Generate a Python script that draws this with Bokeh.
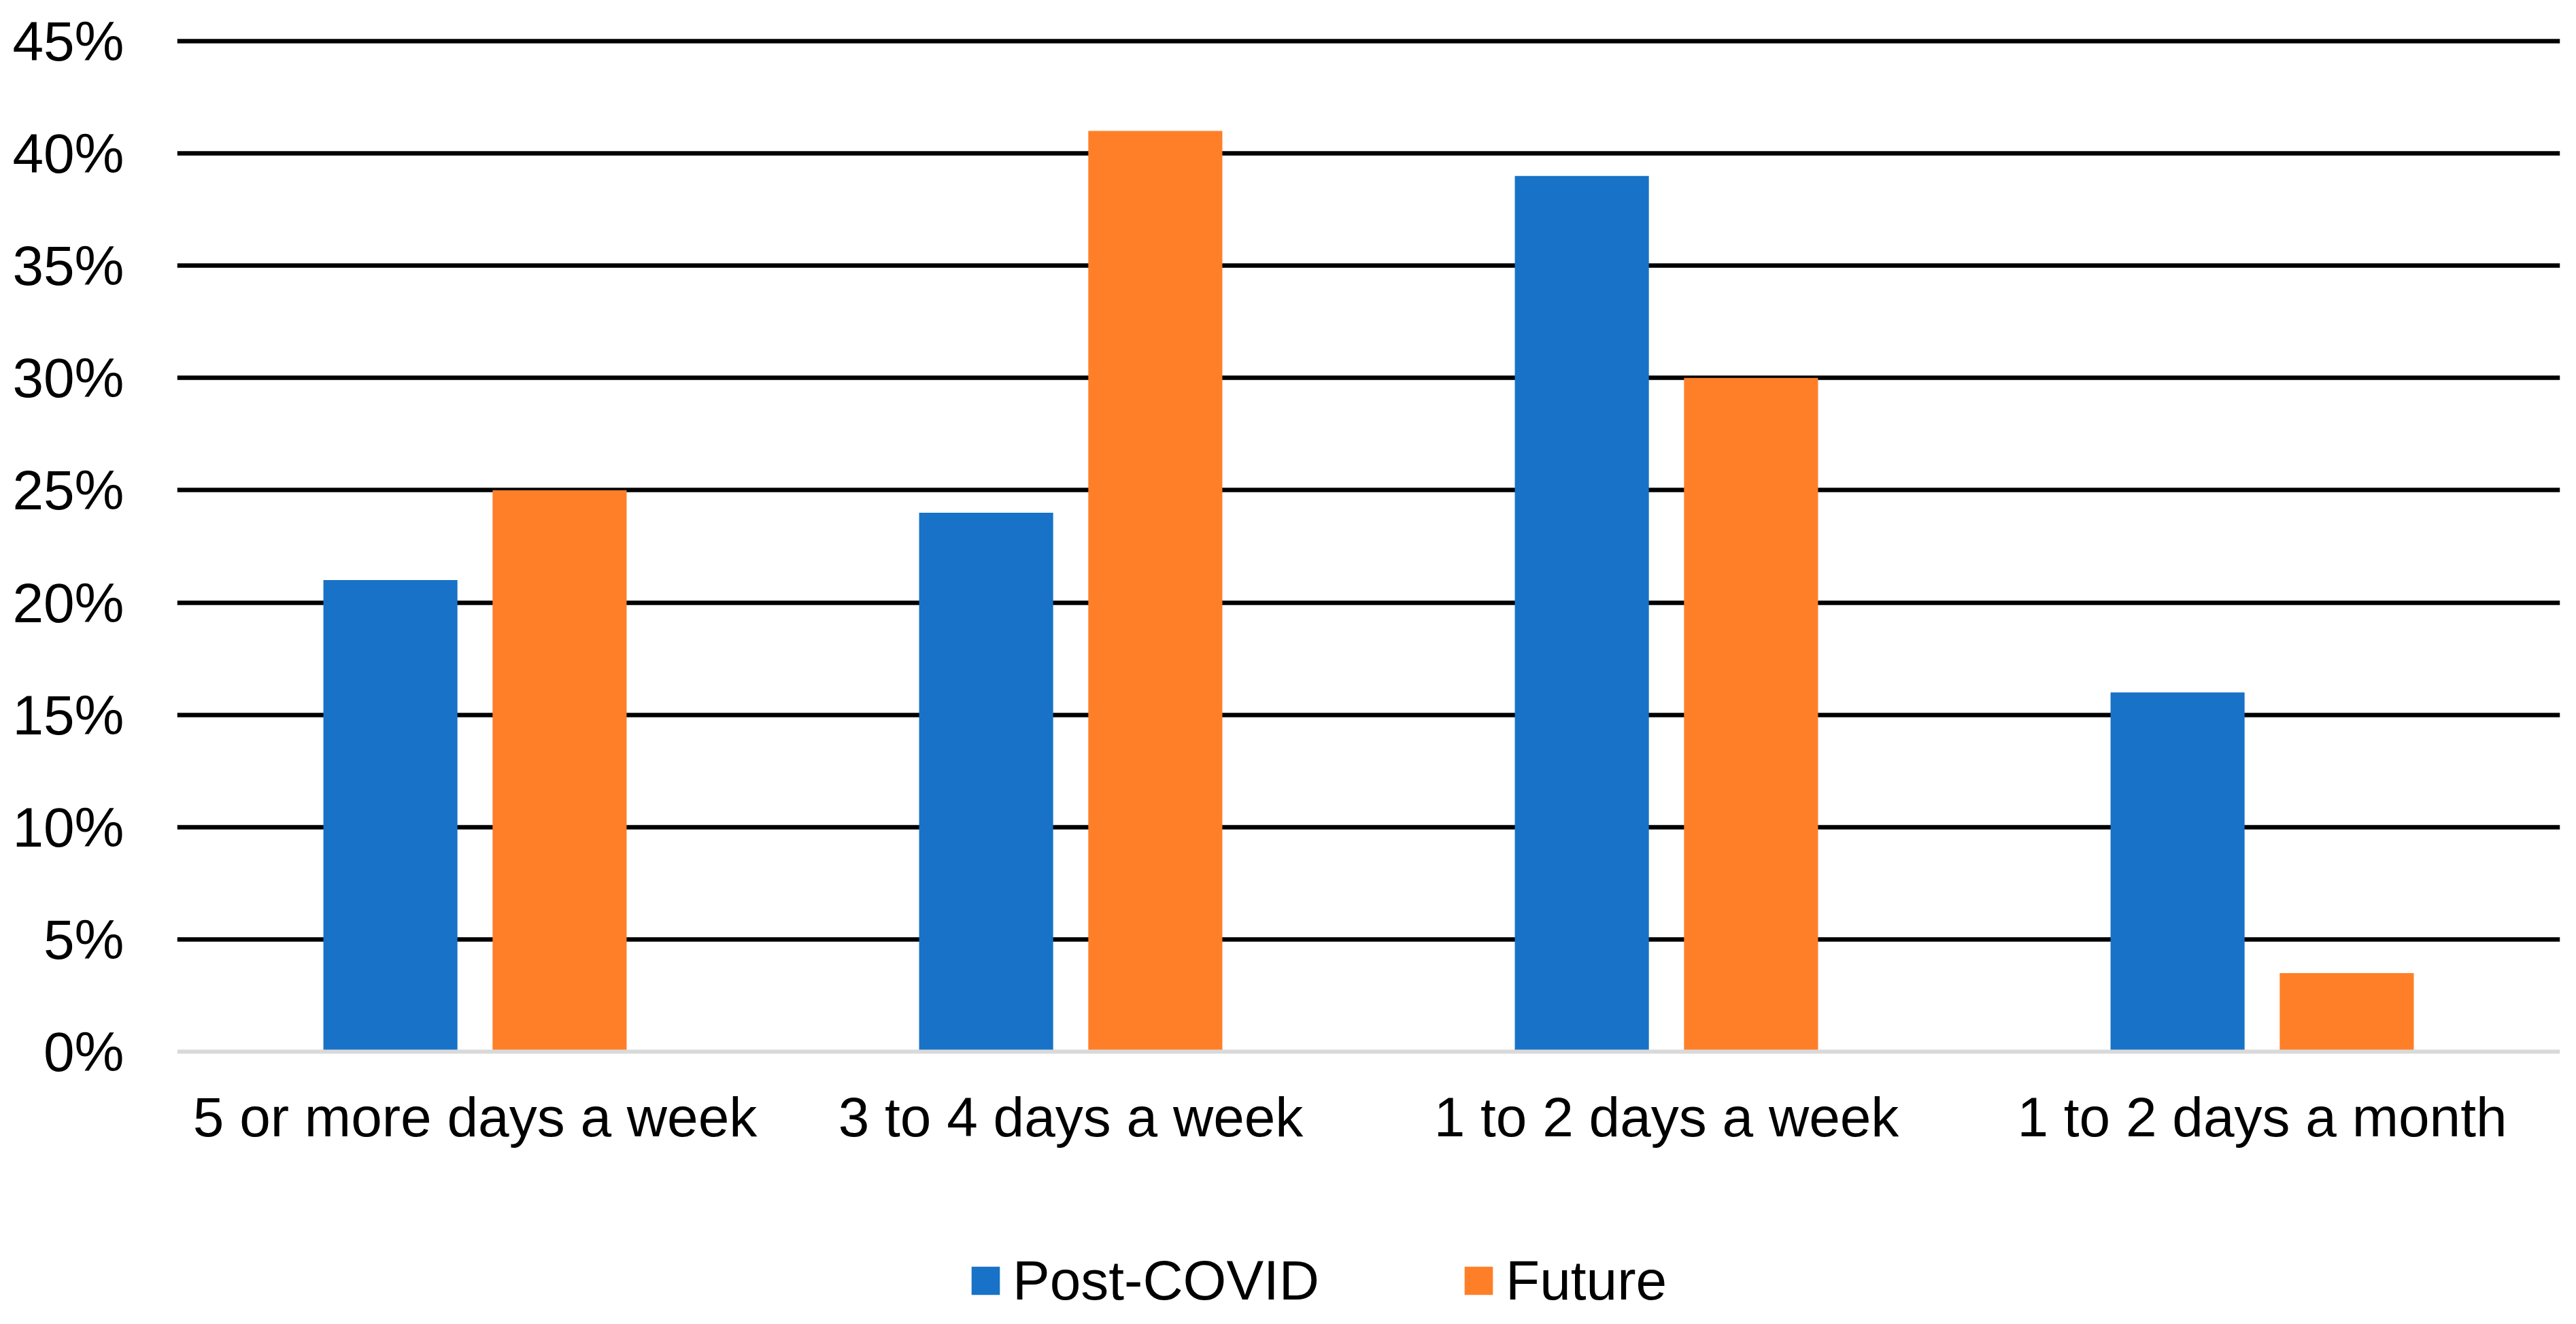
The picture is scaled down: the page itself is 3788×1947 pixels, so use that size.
from bokeh.plotting import figure
from bokeh.models import FactorRange, Range1d, FixedTicker, Legend, LegendItem, ColumnDataSource
from bokeh.transform import dodge
from bokeh.embed import file_html
from bokeh.resources import INLINE

# ---- data ----
categories = ["5 or more days a week", "3 to 4 days a week", "1 to 2 days a week", "1 to 2 days a month"]
post_covid = [21, 24, 39, 16]
future = [25, 41, 30, 3.5]
series_names = ["Post-COVID", "Future"]
y_ticks = [0, 5, 10, 15, 20, 25, 30, 35, 40, 45]
y_tick_labels = ["0%", "5%", "10%", "15%", "20%", "25%", "30%", "35%", "40%", "45%"]

# ---- styles ----
BLUE = "#1872C7"
ORANGE = "#FF7F28"
FONT = "Liberation Sans"
FS = "82px"

W, H = 3772, 1931
left_b, right_b, top_b, bottom_b = 260, 8, 50, 0
# pixel geometry of the value axis (figure coords): 45% at y=60, 0% at y=1546
y_top_px, y_zero_px = 60, 1546
px_per_unit = (y_zero_px - y_top_px) / y_ticks[-1]
y_end = y_ticks[-1] + (y_top_px - top_b) / px_per_unit
y_start = -((H - bottom_b) - y_zero_px) / px_per_unit

source = ColumnDataSource(dict(cat=categories, post=post_covid, fut=future))

p = figure(width=W, height=H, output_backend="svg", toolbar_location=None,
           x_range=FactorRange(*categories, range_padding=0),
           y_range=Range1d(y_start, y_end), x_axis_location="above",
           min_border_left=left_b, min_border_right=right_b,
           min_border_top=top_b, min_border_bottom=bottom_b)
p.outline_line_color = None
p.background_fill_color = "white"
p.border_fill_color = "white"

r1 = p.vbar(x=dodge("cat", -0.142, range=p.x_range), top="post", bottom=0, width=0.225,
            source=source, fill_color=BLUE, line_color=None)
r2 = p.vbar(x=dodge("cat", 0.142, range=p.x_range), top="fut", bottom=0, width=0.225,
            source=source, fill_color=ORANGE, line_color=None)

# y axis
p.yaxis.ticker = FixedTicker(ticks=y_ticks)
p.yaxis.major_label_overrides = {t: l for t, l in zip(y_ticks, y_tick_labels)}
p.yaxis.axis_line_color = None
p.yaxis.major_tick_line_color = None
p.yaxis.minor_tick_line_color = None
p.yaxis.major_label_text_font = FONT
p.yaxis.major_label_text_font_size = FS
p.yaxis.major_label_text_color = "black"
p.yaxis.major_label_standoff = 72

# x axis: drawn at value 0, labels pushed below the line
p.xaxis.fixed_location = 0
p.xaxis.axis_line_color = "#D9D9D9"
p.xaxis.axis_line_width = 6
p.xaxis.major_tick_line_color = None
p.xaxis.minor_tick_line_color = None
p.xaxis.major_label_text_font = FONT
p.xaxis.major_label_text_font_size = FS
p.xaxis.major_label_text_color = "black"
p.xaxis.major_label_standoff = -147

# grid
p.xgrid.grid_line_color = None
p.ygrid.ticker = FixedTicker(ticks=y_ticks[1:])
p.ygrid.grid_line_color = "black"
p.ygrid.grid_line_width = 6.5

legend = Legend(items=[LegendItem(label=series_names[0], renderers=[r1]),
                       LegendItem(label=series_names[1], renderers=[r2])],
                orientation="horizontal", location=(1163, 1),
                label_text_font=FONT, label_text_font_size=FS, label_text_color="black",
                glyph_width=52, glyph_height=52, label_standoff=14, spacing=208,
                padding=0, margin=0, border_line_color=None, background_fill_alpha=0)
p.add_layout(legend)

open("out.html", "w").write(file_html(p, INLINE))
